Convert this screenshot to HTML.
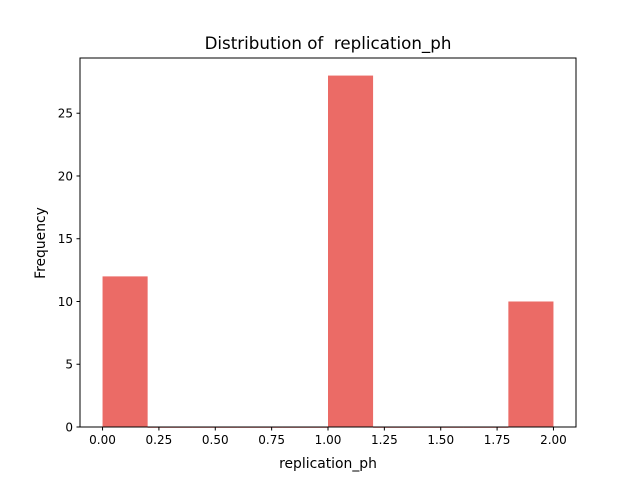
<!DOCTYPE html>
<html><head><meta charset="utf-8"><style>
body{margin:0;background:#fff}
svg{display:block;font-family:"DejaVu Sans","Liberation Sans",sans-serif}
</style></head><body>
<svg id="chart" width="640" height="480">
<rect width="640" height="480" fill="#fff"/>
<text x="328" y="49" font-size="16.7" text-anchor="middle" style="white-space:pre">Distribution of  replication_ph</text>
<g id="bars"></g>
<g id="xt"></g>
<g id="yt"></g>
<rect x="80" y="58" width="496" height="369" fill="none" stroke="#000" stroke-width="1"/>
<text x="328" y="468" font-size="13.9" text-anchor="middle">replication_ph</text>
<text transform="translate(45,243) rotate(-90)" font-size="13.9" text-anchor="middle">Frequency</text>
</svg>
<script>
const binEdges=[0,0.2,0.4,0.6,0.8,1.0,1.2,1.4,1.6,1.8,2.0];
const counts=[12,0,0,0,0,28,0,0,0,10];
const xTicks=[0,0.25,0.5,0.75,1.0,1.25,1.5,1.75,2.0];
const xTickLabels=["0.00","0.25","0.50","0.75","1.00","1.25","1.50","1.75","2.00"];
const yTicks=[0,5,10,15,20,25];
const L=80,R=576,T=58,B=427;
const xmin=-0.1,xmax=2.1,ymin=0,ymax=29.4;
const X=v=>L+(v-xmin)/(xmax-xmin)*(R-L);
const Y=v=>B-(v-ymin)/(ymax-ymin)*(B-T);
const NS="http://www.w3.org/2000/svg";
function mk(t,a,p){const e=document.createElementNS(NS,t);for(const k in a)e.setAttribute(k,a[k]);p.appendChild(e);return e;}
const bars=document.getElementById('bars');
counts.forEach((c,i)=>{
 const x0=X(binEdges[i]),x1=X(binEdges[i+1]);
 const r=mk('rect',{x:x0,y:Y(c),width:x1-x0,height:Math.max(Y(0)-Y(c),0.8),fill:'#eb6b66'},bars);
 
 
});
const xt=document.getElementById('xt');
xTicks.forEach((v,i)=>{
 const x=X(v);
 mk('line',{x1:x,x2:x,y1:B,y2:B+3.5,stroke:'#000'},xt);
 const t=mk('text',{x:x,y:B+17,'font-size':12,'text-anchor':'middle'},xt);
 t.textContent=xTickLabels[i];
 
 
});
const yt=document.getElementById('yt');
yTicks.forEach(v=>{
 const y=Y(v);
 mk('line',{x1:L-3.5,x2:L,y1:y,y2:y,stroke:'#000'},yt);
 const t=mk('text',{x:L-7,y:y+4.5,'font-size':12,'text-anchor':'end'},yt);
 t.textContent=v;
 
 
});
</script>
</body></html>
